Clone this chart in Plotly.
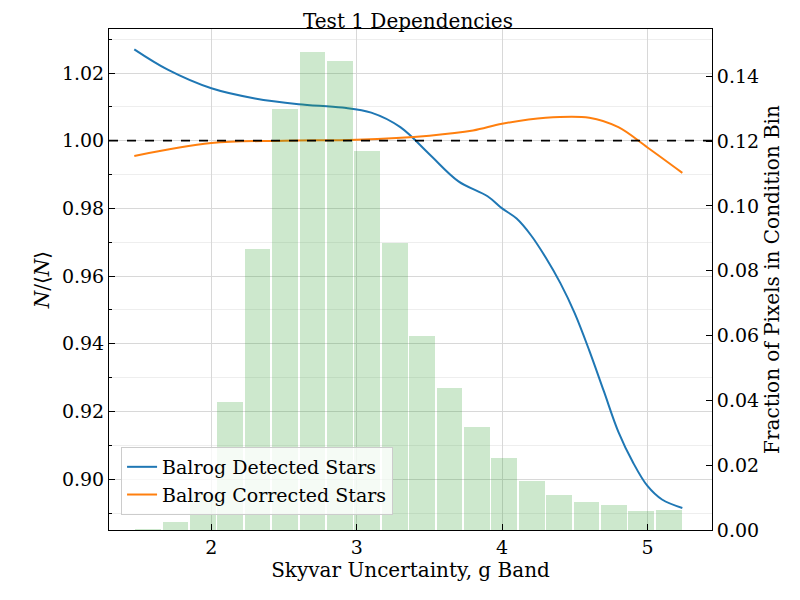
import numpy as np
import plotly.graph_objects as go

# histogram: 20 bins between 1.47 and 5.24
bin_lo = 1.47
bin_hi = 5.24
frac = [0.0003, 0.0025, 0.011, 0.0396, 0.0868, 0.130, 0.1476, 0.1448, 0.117, 0.0887,
        0.060, 0.0437, 0.0317, 0.0222, 0.0152, 0.0108, 0.0086, 0.0076, 0.0060, 0.0063]

blue_x = [1.47, 1.7, 2.0, 2.3, 2.6, 2.9, 3.1, 3.3, 3.5, 3.7, 3.9, 4.0, 4.1, 4.2, 4.3,
          4.4, 4.5, 4.6, 4.7, 4.8, 4.9, 5.0, 5.1, 5.24]
blue_y = [1.027, 1.021, 1.0155, 1.0125, 1.0108, 1.0098, 1.0083, 1.004, 0.996, 0.988,
          0.9836, 0.980, 0.977, 0.972, 0.9655, 0.958, 0.949, 0.938, 0.926, 0.914,
          0.905, 0.898, 0.894, 0.8915]
orange_x = [1.47, 2.0, 2.5, 3.0, 3.5, 3.8, 4.0, 4.3, 4.6, 4.8, 5.0, 5.24]
orange_y = [0.9955, 0.9993, 1.0, 1.0003, 1.0015, 1.003, 1.005, 1.0068, 1.0068, 1.004, 0.998, 0.9905]

w = (bin_hi - bin_lo) / len(frac)
centers = bin_lo + w * (np.arange(len(frac)) + 0.5)

font = "DejaVu Serif"
fig = go.Figure()
fig.add_trace(go.Bar(x=centers, y=frac, width=w * 0.94, yaxis="y2",
                     marker=dict(color="rgba(44,160,44,0.24)", line_width=0),
                     showlegend=False))
fig.add_trace(go.Scatter(x=blue_x, y=blue_y, mode="lines", line=dict(color="#1f77b4", width=2, shape="spline", smoothing=1.0),
                         name="Balrog Detected Stars"))
fig.add_trace(go.Scatter(x=orange_x, y=orange_y, mode="lines", line=dict(color="#ff7f0e", width=2, shape="spline"),
                         name="Balrog Corrected Stars"))
fig.add_hline(y=1.0, line=dict(color="black", dash="dash", width=1.8))

axis = dict(showline=True, linecolor="black", mirror=True, ticks="inside", ticklen=6,
            tickcolor="black", gridcolor="#d8d8d8", zeroline=False, automargin=False)
fig.update_layout(
    width=800, height=600, template="plotly_white",
    font=dict(family=font, size=19, color="black"),
    title=dict(text="Test 1 Dependencies", x=0.5, xanchor="center", y=0.99, font_size=20),
    margin=dict(l=101, r=96, t=21, b=78),
    bargap=0,
    xaxis=dict(axis, range=[1.296, 5.444], dtick=1,
               title=dict(text="Skyvar Uncertainty, g Band", standoff=4, font_size=20)),
    yaxis=dict(axis, range=[0.885, 1.033], dtick=0.02, tickformat=".2f", mirror=False,
               minor=dict(ticks="inside", ticklen=3, dtick=0.01, showgrid=True, gridcolor="#eeeeee"),
               title=dict(text="<i>N</i>/⟨<i>N</i>⟩", standoff=6, font_size=20)),
    yaxis2=dict(axis, overlaying="y", side="right", range=[0, 0.1546], dtick=0.02, tickformat=".2f",
                showgrid=False, mirror=False,
                title=dict(text="Fraction of Pixels in Condition Bin", standoff=6, font_size=20)),
    legend=dict(x=0.02, y=0.03, xanchor="left", yanchor="bottom", bgcolor="rgba(255,255,255,0.8)",
                bordercolor="#cccccc", borderwidth=1, font_size=19),
)
fig.write_html("out.html")
